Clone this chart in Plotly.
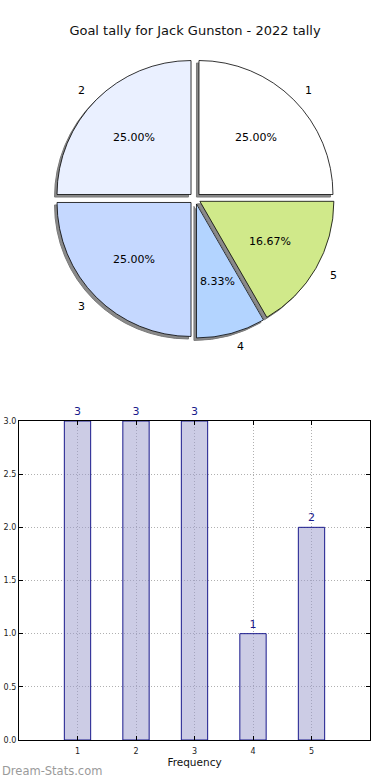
import numpy as np
import plotly.graph_objects as go

# ---- data ----
categories = ["1", "2", "3", "4", "5"]
counts = [3, 3, 3, 1, 2]
slice_colors = ["#ffffff", "#eaf0ff", "#c5d8ff", "#b3d4ff", "#d0e98a"]
title_text = "Goal tally for Jack Gunston - 2022 tally"

W, H = 390, 780
cx, cy = 195.0, 198.5       # pie centre in px
r = 134.0                   # pie radius in px
pull = 0.042
half = r * (1 + pull)

def px2paper(x, y):
    return x / W, 1 - y / H

def dom(dx=0.0, dy=0.0):
    x0, y0 = px2paper(cx - half + dx, cy + half + dy)
    x1, y1 = px2paper(cx + half + dx, cy - half + dy)
    return dict(x=[x0, x1], y=[y0, y1])

fig = go.Figure()

# shadow pie
fig.add_trace(go.Pie(
    labels=categories, values=counts, sort=False, direction="counterclockwise",
    rotation=0, pull=[pull] * 5, domain=dom(-2.5, 2.5),
    marker=dict(colors=["#8a8a8a"] * 5, line=dict(color="#7a7a7a", width=1)),
    textinfo="none", hoverinfo="skip", showlegend=False,
))
# main pie
fig.add_trace(go.Pie(
    labels=categories, values=counts, sort=False, direction="counterclockwise",
    rotation=0, pull=[pull] * 5, domain=dom(),
    marker=dict(colors=slice_colors, line=dict(color="#000000", width=0.8)),
    textinfo="none", showlegend=False,
))

# labels and percentages computed from the values
vals = np.array(counts, dtype=float)
frac = vals / vals.sum()
starts = np.concatenate([[0], np.cumsum(frac)[:-1]])
mids = np.deg2rad((starts + frac / 2) * 360)
annotations = []
for lab, f, a in zip(categories, frac, mids):
    off = pull * r
    lx = cx + (1.1 * r + off) * np.cos(a)
    ly = cy - (1.1 * r + off) * np.sin(a)
    px_, py_ = px2paper(lx, ly)
    annotations.append(dict(x=px_, y=py_, xref="paper", yref="paper", text=lab,
                            showarrow=False, font=dict(size=11, color="#000"),
                            xanchor="left" if np.cos(a) >= 0 else "right",
                            yanchor="middle"))
    tx = cx + (0.6 * r + off) * np.cos(a)
    ty = cy - (0.6 * r + off) * np.sin(a)
    px_, py_ = px2paper(tx, ty)
    annotations.append(dict(x=px_, y=py_, xref="paper", yref="paper",
                            text=f"{f*100:.2f}%", showarrow=False,
                            xanchor="center", yanchor="middle",
                            font=dict(size=11, color="#000")))

annotations.append(dict(x=0, y=1 - 771 / H, xref="paper", yref="paper",
                        text="Dream-Stats.com", showarrow=False, xanchor="left",
                        yanchor="middle", font=dict(size=11.5, color="#9a9a9a",
                                                    family="DejaVu Sans")))

# bar chart
fig.add_trace(go.Bar(
    x=[int(c) for c in categories], y=counts, width=0.45,
    marker=dict(color="rgba(153,153,204,0.5)", line=dict(color="#1a1a8c", width=1)),
    text=[str(v) for v in counts], textposition="outside", cliponaxis=False,
    textfont=dict(color="#1a1a8c", size=11), showlegend=False,
))

bx0, by0 = px2paper(19, 740)
bx1, by1 = px2paper(370, 421)

axis_common = dict(showline=True, linecolor="#000", linewidth=1.2, mirror="ticks",
                   ticks="inside", ticklen=4, tickcolor="#000", automargin=False,
                   showgrid=True, gridcolor="#b0b0b0", griddash="1px,2px", gridwidth=1,
                   zeroline=False, tickfont=dict(size=8, color="#222"))

fig.update_layout(
    width=W, height=H, margin=dict(l=0, r=0, t=0, b=0),
    paper_bgcolor="white", plot_bgcolor="white",
    font=dict(family="DejaVu Sans"),
    title=dict(text=title_text, x=0.5, xanchor="center", y=1 - 30 / H,
               yanchor="middle", font=dict(size=13, color="#111")),
    xaxis=dict(domain=[bx0, bx1], range=[0, 6], tickvals=[1, 2, 3, 4, 5],
               ticktext=categories, ticklabelstandoff=3,
               title=dict(text="Frequency", font=dict(size=10.5, color="#111"), standoff=1),
               **axis_common),
    yaxis=dict(domain=[by0, by1], range=[0, 3], dtick=0.5, tickformat=".1f",
               **axis_common),
    annotations=annotations,
)

fig.write_html("out.html", config={"displayModeBar": False},
               post_script="document.body.style.margin='0';document.body.style.overflow='hidden';")
